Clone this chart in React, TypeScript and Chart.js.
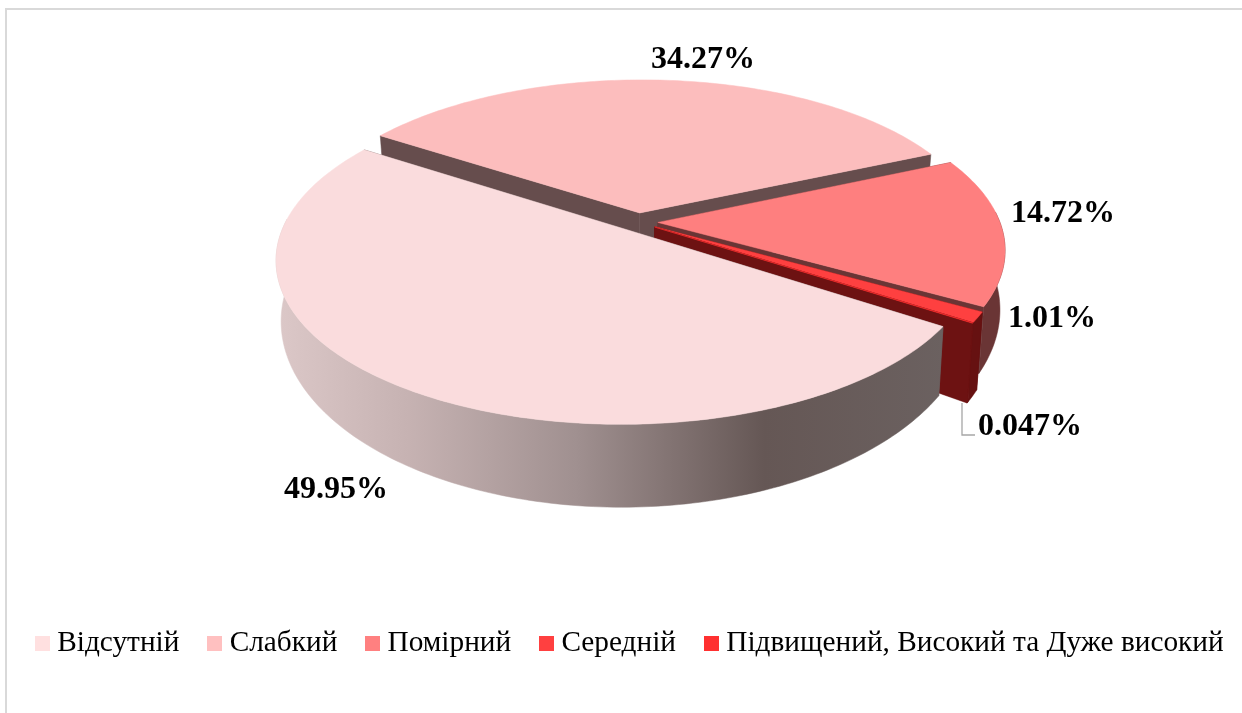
import React, { useEffect, useRef } from "react";
import { Chart, registerables } from "chart.js";

Chart.register(...registerables);

const categories = ["Відсутній", "Слабкий", "Помірний", "Середній", "Підвищений, Високий та Дуже високий"];
const values = [49.95, 34.27, 14.72, 1.01, 0.047];
const valueLabels = ["49.95%", "34.27%", "14.72%", "1.01%", "0.047%"];

const legendColors = ["#ffe0e0", "#ffc0c0", "#ff8080", "#ff4040", "#ff3030"];
const topColors = ["#fadcdd", "#fcbdbd", "#fe7f7f", "#fe4040", "#fe3030"];
const faceColors = ["#6a5c5c", "#664d4d", "#6a3535", "#661111", "#6d1212"];
const faceDepths = [1, 1, 1, 1.16, 1.16];
const labelPositions = [[336, 489.5], [703, 59.5], [1063, 213.5], [1052, 318.5], [1030, 426.5]];
const leaderLine = [[962, 403], [962, 435], [975, 435]];

// projection of the pie's disc (unit radius) on to the picture
const VIEW = { cx: 638, cy: 222, A: 342, B: -3, D: 158.5, k: 0.17, h: 56, shrink: 0.014, explode: 0.058 };

function project(u: number, v: number, z: number): [number, number] {
  const w = 1 - VIEW.k * v;
  return [
    VIEW.cx + ((VIEW.A * u + VIEW.B * v) / w) * (1 - VIEW.shrink * z),
    VIEW.cy + (VIEW.D * v) / w + (z * VIEW.h) / (w * w),
  ];
}

function fillPoly(ctx: CanvasRenderingContext2D, pts: [number, number][], fill: any) {
  ctx.beginPath();
  pts.forEach((p, i) => (i ? ctx.lineTo(p[0], p[1]) : ctx.moveTo(p[0], p[1])));
  ctx.closePath();
  ctx.fillStyle = fill;
  ctx.strokeStyle = fill;
  ctx.lineWidth = 0.5;
  ctx.fill();
  ctx.stroke();
}

const pie3d = {
  id: "pie3d",
  beforeDraw(chart: any) {
    const { ctx, width, height } = chart;
    ctx.save();
    ctx.fillStyle = "#ffffff";
    ctx.fillRect(0, 0, width, height);
    ctx.strokeStyle = "#d9d9d9";
    ctx.lineWidth = 2;
    ctx.beginPath();
    ctx.moveTo(6, height);
    ctx.lineTo(6, 9);
    ctx.lineTo(width, 9);
    ctx.stroke();
    ctx.restore();
  },
  beforeDatasetsDraw(chart: any) {
    const { ctx } = chart;
    const arcs = chart.getDatasetMeta(0).data;
    const order = [1, 2, 3, 4, 0];
    ctx.save();
    for (const i of order) {
      const { startAngle: a0, endAngle: a1 } = arcs[i];
      const mid = (a0 + a1) / 2;
      const ox = VIEW.explode * Math.cos(mid);
      const oy = VIEW.explode * Math.sin(mid);
      const n = Math.max(2, Math.ceil(((a1 - a0) * 180) / Math.PI));
      const zb = faceDepths[i];
      const at = (t: number, z: number) => project(ox + Math.cos(t), oy + Math.sin(t), z);
      const apex = (z: number) => project(ox, oy, z);
      const ang = Array.from({ length: n + 1 }, (_, j) => a0 + ((a1 - a0) * j) / n);

      fillPoly(ctx, [apex(0), at(a0, 0), at(a0, zb), apex(zb)], faceColors[i]);
      fillPoly(ctx, [apex(0), at(a1, 0), at(a1, zb), apex(zb)], faceColors[i]);

      let rim: any = faceColors[i];
      if (i === 0) {
        rim = ctx.createLinearGradient(275, 0, 945, 0);
        rim.addColorStop(0, "#dcc8c8");
        rim.addColorStop(0.2, "#c6b2b2");
        rim.addColorStop(0.45, "#a09090");
        rim.addColorStop(0.73, "#655755");
        rim.addColorStop(1, "#6b6160");
      }
      // only the part of the rim that faces the viewer
      const front = ang.filter((t) => Math.sin(t) > -0.08);
      if (front.length > 1) {
        fillPoly(ctx, [...front.map((t) => at(t, 0)), ...[...front].reverse().map((t) => at(t, zb))], rim);
      }
      fillPoly(ctx, [apex(0), ...ang.map((t) => at(t, 0))], topColors[i]);
    }

    ctx.strokeStyle = "#a6a6a6";
    ctx.lineWidth = 1.3;
    ctx.beginPath();
    leaderLine.forEach((p, i) => (i ? ctx.lineTo(p[0], p[1]) : ctx.moveTo(p[0], p[1])));
    ctx.stroke();

    ctx.fillStyle = "#000000";
    ctx.font = 'bold 32px "Liberation Serif"';
    ctx.textAlign = "center";
    ctx.textBaseline = "middle";
    valueLabels.forEach((t, i) => ctx.fillText(t, labelPositions[i][0], labelPositions[i][1]));
    ctx.restore();
    return false;
  },
};

function swatch(color: string): HTMLCanvasElement {
  const c = document.createElement("canvas");
  c.width = 15;
  c.height = 15;
  const g = c.getContext("2d")!;
  g.fillStyle = color;
  g.fillRect(0, 0, 15, 15);
  return c;
}

export default function App() {
  const ref = useRef<HTMLCanvasElement>(null);
  useEffect(() => {
    const chart = new Chart(ref.current!, {
      type: "pie",
      data: {
        labels: categories,
        datasets: [{ data: values, backgroundColor: legendColors, borderWidth: 0 }],
      },
      options: {
        animation: false,
        responsive: false,
        rotation: 123,
        layout: { padding: { bottom: 45, left: 7, right: -30 } },
        plugins: {
          tooltip: { enabled: false },
          legend: {
            position: "bottom",
            align: "start",
            labels: {
              usePointStyle: true,
              boxWidth: 0.1,
              boxHeight: 15,
              padding: 35.5,
              color: "#000000",
              font: { family: '"Liberation Serif"', size: 29.3 },
              generateLabels: () =>
                categories.map((text, i) => ({
                  text,
                  index: i,
                  fillStyle: legendColors[i],
                  strokeStyle: legendColors[i],
                  lineWidth: 0,
                  pointStyle: swatch(legendColors[i]),
                  hidden: false,
                })),
            },
          },
        },
      } as any,
      plugins: [pie3d as any],
    });
    return () => chart.destroy();
  }, []);
  return (
    <div style={{ position: "fixed", left: 0, top: 0, width: 1242, height: 713 }}>
      <canvas ref={ref} width={1242} height={713} style={{ display: "block" }} />
    </div>
  );
}
